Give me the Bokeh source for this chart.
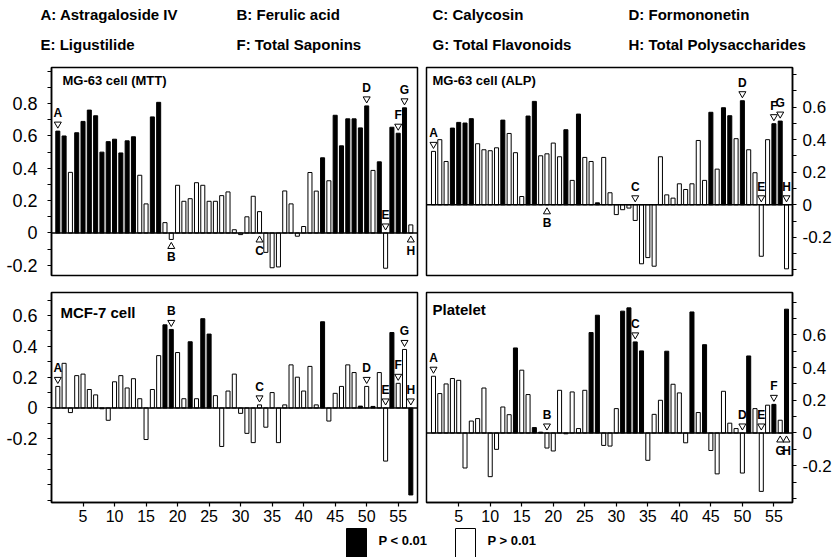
from bokeh.plotting import figure
from bokeh.layouts import column, row
from bokeh.models import ColumnDataSource, Range1d, FixedTicker, Span, CustomJSTickFormatter
from bokeh.core.properties import value
from bokeh.embed import file_html
from bokeh.resources import INLINE

FONT = "Liberation Sans"

# ---------------- data ----------------
bar_index = list(range(1, 58))

compound_labels = ["A: Astragaloside IV", "B: Ferulic acid", "C:  Calycosin", "D: Formononetin",
                   "E: Ligustilide", "F:  Total Saponins", "G:  Total Flavonoids", "H:  Total Polysaccharides"]

mtt_values = [0.63, 0.60, 0.375, 0.62, 0.69, 0.76, 0.725, 0.50, 0.565, 0.58,
              0.495, 0.57, 0.595, 0.357, 0.18, 0.718, 0.808, 0.064, -0.04, 0.295,
              0.196, 0.212, 0.311, 0.295, 0.196, 0.196, 0.231, 0.254, 0.02, -0.01,
              0.10, 0.227, 0.132, -0.12, -0.215, -0.21, 0.26, 0.18, -0.02, 0.04,
              0.374, 0.259, 0.465, 0.323, 0.728, 0.539, 0.706, 0.706, 0.65, 0.786,
              0.387, 0.44, -0.218, 0.654, 0.617, 0.774, 0.05]
mtt_sig = [1, 1, 0, 1, 1, 1, 1, 1, 1, 1,
           1, 1, 1, 0, 0, 1, 1, 0, 0, 0,
           0, 0, 0, 0, 0, 0, 0, 0, 0, 0,
           0, 0, 0, 0, 0, 0, 0, 0, 0, 0,
           0, 0, 1, 0, 1, 1, 1, 1, 1, 1,
           0, 1, 0, 1, 1, 1, 0]
mtt_markers = [("A", 1, "up"), ("B", 19, "down"), ("C", 33, "down"), ("D", 50, "up"),
               ("E", 53, "up"), ("F", 55, "up"), ("G", 56, "up"), ("H", 57, "down")]

alp_values = [0.328, 0.40, 0.266, 0.471, 0.506, 0.502, 0.529, 0.375, 0.338, 0.332,
              0.35, 0.52, 0.438, 0.32, 0.051, 0.545, 0.635, 0.301, 0.313, 0.379,
              0.295, 0.461, 0.15, 0.557, 0.291, 0.266, 0.012, 0.291, 0.074, -0.06,
              -0.03, -0.02, -0.096, -0.362, -0.324, -0.377, 0.295, 0.061, 0.041, 0.129,
              0.094, 0.129, 0.395, 0.15, 0.568, 0.219, 0.596, 0.547, 0.406, 0.639,
              0.338, 0.197, -0.316, 0.40, 0.498, 0.514, -0.393]
alp_sig = [0, 0, 0, 1, 1, 1, 1, 0, 0, 0,
           0, 1, 0, 0, 0, 1, 1, 0, 0, 0,
           0, 1, 0, 1, 0, 0, 1, 0, 0, 0,
           0, 0, 0, 0, 0, 0, 0, 0, 0, 0,
           0, 0, 0, 0, 1, 0, 1, 1, 0, 1,
           0, 0, 0, 0, 1, 1, 0]
alp_markers = [("A", 1, "up"), ("B", 19, "down"), ("C", 33, "up"), ("D", 50, "up"),
               ("E", 53, "up"), ("F", 55, "up"), ("G", 56, "up"), ("H", 57, "up")]

mcf_values = [0.14, 0.29, -0.03, 0.21, 0.22, 0.12, 0.085, -0.005, -0.08, 0.17,
              0.21, 0.13, 0.19, 0.06, -0.205, 0.12, 0.34, 0.54, 0.51, 0.36,
              0.06, 0.43, 0.06, 0.58, 0.48, 0.08, -0.25, 0.11, 0.22, -0.035,
              -0.165, -0.225, 0.02, -0.125, 0.10, -0.225, 0.02, 0.28, 0.20, 0.11,
              0.27, 0.02, 0.56, -0.085, 0.095, 0.14, 0.28, 0.23, 0.012, 0.14,
              0.01, 0.23, -0.345, 0.49, 0.16, 0.38, -0.565]
mcf_sig = [0, 0, 0, 0, 0, 0, 0, 0, 0, 0,
           0, 0, 0, 0, 0, 0, 0, 1, 1, 0,
           0, 1, 0, 1, 1, 0, 0, 0, 0, 0,
           0, 0, 0, 0, 0, 0, 0, 0, 0, 0,
           0, 0, 1, 0, 0, 0, 0, 0, 1, 0,
           1, 0, 0, 1, 0, 0, 1]
mcf_markers = [("A", 1, "up"), ("B", 19, "up"), ("C", 33, "up"), ("D", 50, "up"),
               ("E", 53, "up"), ("F", 55, "up"), ("G", 56, "up"), ("H", 57, "up")]

plt_values = [0.347, 0.241, 0.30, 0.333, 0.322, -0.214, 0.073, 0.088, 0.275, -0.267,
              -0.10, 0.159, 0.112, 0.52, 0.384, 0.235, 0.033, 0.005, -0.092, -0.11,
              0.261, -0.005, 0.251, 0.027, 0.261, 0.614, 0.72, -0.076, -0.08, 0.149,
              0.745, 0.765, 0.557, 0.502, -0.167, 0.114, 0.20, 0.50, 0.298, 0.245,
              -0.06, 0.74, 0.125, 0.54, -0.107, -0.25, 0.255, 0.06, 0.027, -0.245,
              0.471, 0.149, -0.357, 0.17, 0.175, 0.078, 0.757]
plt_sig = [0, 0, 0, 0, 0, 0, 0, 0, 0, 0,
           0, 0, 0, 1, 0, 0, 1, 0, 0, 0,
           0, 0, 0, 0, 0, 1, 1, 0, 0, 0,
           1, 1, 1, 1, 0, 0, 0, 1, 0, 0,
           0, 1, 0, 1, 0, 0, 0, 0, 0, 0,
           1, 0, 0, 0, 1, 0, 1]
plt_markers = [("A", 1, "up"), ("B", 19, "up"), ("C", 33, "up"), ("D", 50, "up"),
               ("E", 53, "up"), ("F", 55, "up"), ("G", 56, "down"), ("H", 57, "down")]

x_ticks = [5, 10, 15, 20, 25, 30, 35, 40, 45, 50, 55]
legend_labels = ["P < 0.01", "P > 0.01"]

# ---------------- helpers ----------------
def panel(values, sig, markers, title, title_size, title_off, xr, yr, ymajor, yminor,
          side, width, height, borders, xaxis):
    bl, br, bt, bb = borders
    p = figure(width=width, height=height, x_range=Range1d(*xr), y_range=Range1d(*yr),
               output_backend="svg", toolbar_location=None,
               x_axis_location=("below" if xaxis else None),
               y_axis_location=side,
               min_border_left=bl, min_border_right=br, min_border_top=bt, min_border_bottom=bb)
    p.xgrid.visible = False
    p.ygrid.visible = False
    p.outline_line_color = "black"
    p.outline_line_width = 1.5
    p.background_fill_color = "white"
    p.border_fill_color = "white"

    frame_h = height - bt - bb
    ppu = frame_h / (yr[1] - yr[0])

    src = ColumnDataSource(dict(x=bar_index, top=values,
                                fill=["black" if s else "white" for s in sig]))
    p.vbar(x="x", top="top", bottom=0, width=0.64, fill_color="fill",
           line_color="black", line_width=1, source=src)
    p.add_layout(Span(location=0, dimension="width", line_color="black", line_width=1.5))

    tri_x, tri_y, tri_m, let_y, lets = [], [], [], [], []
    for letter, idx, where in markers:
        v = values[idx - 1]
        if where == "up":
            base = max(v, 0)
            tri_y.append(base + 7 / ppu)
            let_y.append(base + 18 / ppu)
            tri_m.append("inverted_triangle")
        else:
            base = min(v, 0)
            tri_y.append(base - 7 / ppu)
            let_y.append(base - 18 / ppu)
            tri_m.append("triangle")
        tri_x.append(idx)
        lets.append(letter)
    msrc = ColumnDataSource(dict(x=tri_x, y=tri_y, m=tri_m, ly=let_y, t=lets))
    p.scatter(x="x", y="y", marker="m", size=7, fill_color="white", line_color="black",
              line_width=1, source=msrc)
    p.text(x="x", y="ly", text="t", text_align="center", text_baseline="middle",
           text_font=value(FONT), text_font_style="bold", text_font_size="12px",
           text_color="black", source=msrc)

    p.text(x=[xr[0]], y=[yr[1]], text=[title], x_offset=title_off[0], y_offset=title_off[1],
           text_align="left", text_baseline="middle", text_font=value(FONT),
           text_font_style="bold", text_font_size=title_size, text_color="black")

    yax = p.yaxis[0]
    yax.ticker = FixedTicker(ticks=ymajor, minor_ticks=yminor)
    yax.formatter = CustomJSTickFormatter(code="return Math.abs(tick) < 1e-9 ? '0' : tick.toFixed(1);")
    yax.major_label_text_font = FONT
    yax.major_label_text_font_size = "18px" if side == "left" else "17px"
    yax.major_label_text_color = "black"
    yax.major_label_standoff = 10 if side == "left" else 6
    yax.axis_line_color = "black"
    yax.axis_line_width = 1.5
    yax.major_tick_in = 0
    yax.major_tick_out = 4
    yax.minor_tick_in = 0
    yax.minor_tick_out = 4
    yax.major_tick_line_color = "black"
    yax.minor_tick_line_color = "black"
    yax.major_tick_line_width = 1.2
    yax.minor_tick_line_width = 1.2

    if xaxis:
        xax = p.xaxis[0]
        xax.ticker = FixedTicker(ticks=x_ticks, minor_ticks=[])
        xax.major_label_text_font = FONT
        xax.major_label_text_font_size = "16px"
        xax.major_label_text_color = "black"
        xax.major_label_standoff = 3
        xax.axis_line_color = "black"
        xax.axis_line_width = 1.5
        xax.major_tick_in = 0
        xax.major_tick_out = 4
        xax.minor_tick_out = 0
        xax.minor_tick_in = 0
        xax.major_tick_line_color = "black"
        xax.major_tick_line_width = 1.2
    return p


def blank(width, height):
    p = figure(width=width, height=height, x_range=Range1d(0, width), y_range=Range1d(height, 0),
               output_backend="svg", toolbar_location=None, x_axis_location=None,
               y_axis_location=None, min_border=0)
    p.xgrid.visible = False
    p.ygrid.visible = False
    p.outline_line_color = None
    p.background_fill_color = "white"
    p.border_fill_color = "white"
    return p

# ---------------- header ----------------
header = blank(834, 60)
hx = [40 + 196 * (i % 4) for i in range(len(compound_labels))]
hy = [14 + 30 * (i // 4) for i in range(len(compound_labels))]
header.text(x=hx, y=hy, text=compound_labels, text_align="left", text_baseline="middle",
            text_font=value(FONT), text_font_style="bold", text_font_size="15px",
            text_color="black")

# ---------------- panels ----------------
left_x = (0.0, 58.06)
right_x = (-0.11, 57.95)
LW, RW = 421, 413
H1, H2 = 223, 244
b_left = (51, 4, 7, 8)
b_right = (5, 42, 7, 8)
b_left2 = (51, 4, 9, 25)
b_right2 = (5, 42, 9, 25)

p_mtt = panel(mtt_values, mtt_sig, mtt_markers, "MG-63 cell (MTT)", "13px", (11, 13),
              left_x, (-0.263, 1.0235), [-0.2, 0, 0.2, 0.4, 0.6, 0.8],
              [-0.1, 0.1, 0.3, 0.5, 0.7, 0.9, 1.0], "left", LW, H1, b_left, False)
p_alp = panel(alp_values, alp_sig, alp_markers, "MG-63 cell (ALP)", "13px", (6, 13),
              right_x, (-0.434, 0.843), [-0.2, 0, 0.2, 0.4, 0.6],
              [-0.4, -0.3, -0.1, 0.1, 0.3, 0.5, 0.7, 0.8], "right", RW, H1, b_right, False)
p_mcf = panel(mcf_values, mcf_sig, mcf_markers, "MCF-7 cell", "15px", (9, 20),
              left_x, (-0.614, 0.75), [-0.2, 0, 0.2, 0.4, 0.6],
              [-0.6, -0.5, -0.4, -0.3, -0.1, 0.1, 0.3, 0.5, 0.7], "left", LW, H2, b_left2, True)
p_plt = panel(plt_values, plt_sig, plt_markers, "Platelet", "15px", (6, 17),
              right_x, (-0.425, 0.859), [-0.2, 0, 0.2, 0.4, 0.6],
              [-0.4, -0.3, -0.1, 0.1, 0.3, 0.5, 0.7, 0.8], "right", RW, H2, b_right2, True)

# ---------------- footer legend ----------------
footer = blank(834, 30)
footer.quad(left=[346, 455], right=[366, 475], top=[1, 1], bottom=[30, 30],
            fill_color=["black", "white"], line_color="black", line_width=1)
footer.text(x=[378, 487], y=[13, 13], text=legend_labels, text_align="left",
            text_baseline="middle", text_font=value(FONT), text_font_style="bold",
            text_font_size="13px", text_color="black")

layout = column(header, row(p_mtt, p_alp), row(p_mcf, p_plt), footer)

open("out.html", "w").write(file_html(layout, INLINE))
